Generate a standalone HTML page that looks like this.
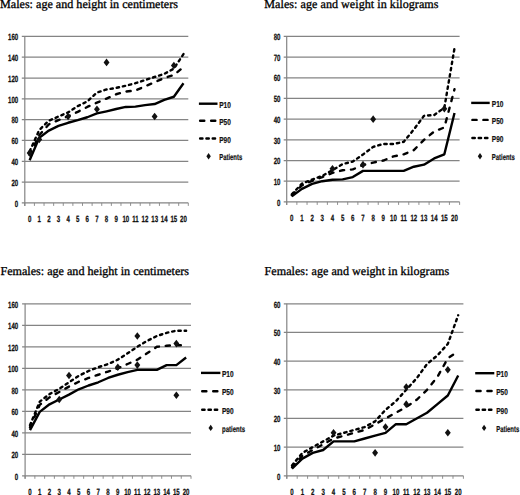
<!DOCTYPE html>
<html><head><meta charset="utf-8"><style>
html,body{margin:0;padding:0;background:#fff;}
body{width:520px;height:495px;overflow:hidden;}
svg{display:block;text-rendering:geometricPrecision;}
.t{font-family:"Liberation Serif",serif;font-size:12.1px;fill:#000;stroke:#000;stroke-width:0.3px;}
.l{font-family:"Liberation Sans",sans-serif;font-weight:bold;font-size:9.0px;fill:#111;stroke:#111;stroke-width:0.25px;}
.g{font-family:"Liberation Sans",sans-serif;font-weight:bold;font-size:8.6px;fill:#111;stroke:#111;stroke-width:0.2px;}
</style></head><body>
<svg width="520" height="495" viewBox="0 0 520 495">
<rect width="520" height="495" fill="#fff"/>
<text x="0" y="8.0" textLength="178" lengthAdjust="spacing" class="t">Males: age and height in centimeters</text>
<line x1="21.80" y1="182.09" x2="188.30" y2="182.09" stroke="#848484" stroke-width="1.2"/>
<line x1="21.80" y1="161.28" x2="188.30" y2="161.28" stroke="#848484" stroke-width="1.2"/>
<line x1="21.80" y1="140.46" x2="188.30" y2="140.46" stroke="#848484" stroke-width="1.2"/>
<line x1="21.80" y1="119.65" x2="188.30" y2="119.65" stroke="#848484" stroke-width="1.2"/>
<line x1="21.80" y1="98.84" x2="188.30" y2="98.84" stroke="#848484" stroke-width="1.2"/>
<line x1="21.80" y1="78.03" x2="188.30" y2="78.03" stroke="#848484" stroke-width="1.2"/>
<line x1="21.80" y1="57.21" x2="188.30" y2="57.21" stroke="#848484" stroke-width="1.2"/>
<line x1="21.80" y1="36.40" x2="188.30" y2="36.40" stroke="#848484" stroke-width="1.2"/>
<line x1="24.80" y1="36.40" x2="24.80" y2="205.90" stroke="#848484" stroke-width="1.2"/>
<line x1="21.80" y1="202.90" x2="188.30" y2="202.90" stroke="#848484" stroke-width="1.2"/>
<line x1="24.80" y1="202.90" x2="24.80" y2="205.90" stroke="#848484" stroke-width="0.9"/>
<line x1="34.42" y1="202.90" x2="34.42" y2="205.90" stroke="#848484" stroke-width="0.9"/>
<line x1="44.04" y1="202.90" x2="44.04" y2="205.90" stroke="#848484" stroke-width="0.9"/>
<line x1="53.65" y1="202.90" x2="53.65" y2="205.90" stroke="#848484" stroke-width="0.9"/>
<line x1="63.27" y1="202.90" x2="63.27" y2="205.90" stroke="#848484" stroke-width="0.9"/>
<line x1="72.89" y1="202.90" x2="72.89" y2="205.90" stroke="#848484" stroke-width="0.9"/>
<line x1="82.51" y1="202.90" x2="82.51" y2="205.90" stroke="#848484" stroke-width="0.9"/>
<line x1="92.12" y1="202.90" x2="92.12" y2="205.90" stroke="#848484" stroke-width="0.9"/>
<line x1="101.74" y1="202.90" x2="101.74" y2="205.90" stroke="#848484" stroke-width="0.9"/>
<line x1="111.36" y1="202.90" x2="111.36" y2="205.90" stroke="#848484" stroke-width="0.9"/>
<line x1="120.98" y1="202.90" x2="120.98" y2="205.90" stroke="#848484" stroke-width="0.9"/>
<line x1="130.59" y1="202.90" x2="130.59" y2="205.90" stroke="#848484" stroke-width="0.9"/>
<line x1="140.21" y1="202.90" x2="140.21" y2="205.90" stroke="#848484" stroke-width="0.9"/>
<line x1="149.83" y1="202.90" x2="149.83" y2="205.90" stroke="#848484" stroke-width="0.9"/>
<line x1="159.45" y1="202.90" x2="159.45" y2="205.90" stroke="#848484" stroke-width="0.9"/>
<line x1="169.06" y1="202.90" x2="169.06" y2="205.90" stroke="#848484" stroke-width="0.9"/>
<line x1="178.68" y1="202.90" x2="178.68" y2="205.90" stroke="#848484" stroke-width="0.9"/>
<line x1="188.30" y1="202.90" x2="188.30" y2="205.90" stroke="#848484" stroke-width="0.9"/>
<text transform="translate(18.20,206.60) scale(0.68,1)" text-anchor="end" class="l">0</text>
<text transform="translate(18.20,185.79) scale(0.68,1)" text-anchor="end" class="l">20</text>
<text transform="translate(18.20,164.97) scale(0.68,1)" text-anchor="end" class="l">40</text>
<text transform="translate(18.20,144.16) scale(0.68,1)" text-anchor="end" class="l">60</text>
<text transform="translate(18.20,123.35) scale(0.68,1)" text-anchor="end" class="l">80</text>
<text transform="translate(18.20,102.54) scale(0.68,1)" text-anchor="end" class="l">100</text>
<text transform="translate(18.20,81.73) scale(0.68,1)" text-anchor="end" class="l">120</text>
<text transform="translate(18.20,60.91) scale(0.68,1)" text-anchor="end" class="l">140</text>
<text transform="translate(18.20,40.10) scale(0.68,1)" text-anchor="end" class="l">160</text>
<text transform="translate(29.61,222.00) scale(0.68,1)" text-anchor="middle" class="l">0</text>
<text transform="translate(39.23,222.00) scale(0.68,1)" text-anchor="middle" class="l">1</text>
<text transform="translate(48.84,222.00) scale(0.68,1)" text-anchor="middle" class="l">2</text>
<text transform="translate(58.46,222.00) scale(0.68,1)" text-anchor="middle" class="l">3</text>
<text transform="translate(68.08,222.00) scale(0.68,1)" text-anchor="middle" class="l">4</text>
<text transform="translate(77.70,222.00) scale(0.68,1)" text-anchor="middle" class="l">5</text>
<text transform="translate(87.31,222.00) scale(0.68,1)" text-anchor="middle" class="l">6</text>
<text transform="translate(96.93,222.00) scale(0.68,1)" text-anchor="middle" class="l">7</text>
<text transform="translate(106.55,222.00) scale(0.68,1)" text-anchor="middle" class="l">8</text>
<text transform="translate(116.17,222.00) scale(0.68,1)" text-anchor="middle" class="l">9</text>
<text transform="translate(125.79,222.00) scale(0.68,1)" text-anchor="middle" class="l">10</text>
<text transform="translate(135.40,222.00) scale(0.68,1)" text-anchor="middle" class="l">11</text>
<text transform="translate(145.02,222.00) scale(0.68,1)" text-anchor="middle" class="l">12</text>
<text transform="translate(154.64,222.00) scale(0.68,1)" text-anchor="middle" class="l">13</text>
<text transform="translate(164.26,222.00) scale(0.68,1)" text-anchor="middle" class="l">14</text>
<text transform="translate(173.87,222.00) scale(0.68,1)" text-anchor="middle" class="l">15</text>
<text transform="translate(183.49,222.00) scale(0.68,1)" text-anchor="middle" class="l">20</text>
<path d="M29.61,160.23 L39.23,137.86 L48.84,130.58 L58.46,125.89 L68.08,122.77 L77.70,120.17 L87.31,117.26 L96.93,113.41 L106.55,111.33 L116.17,109.04 L125.79,106.95 L135.40,106.64 L145.02,105.08 L154.64,104.04 L164.26,99.88 L173.87,96.76 L183.49,83.23" fill="none" stroke="#000" stroke-width="2.4" stroke-linejoin="round" stroke-linecap="butt"/>
<path d="M29.61,155.03 L39.23,135.26 L48.84,124.33 L58.46,120.17 L68.08,116.22 L77.70,111.85 L87.31,106.95 L96.93,102.69 L106.55,98.53 L116.17,94.26 L125.79,91.55 L135.40,90.51 L145.02,86.35 L154.64,82.19 L164.26,78.03 L173.87,74.90 L183.49,67.10" fill="none" stroke="#000" stroke-width="2.4" stroke-linejoin="round" stroke-linecap="round" stroke-dasharray="4.2,6.8"/>
<path d="M29.61,151.39 L39.23,130.06 L48.84,120.69 L58.46,116.53 L68.08,112.37 L77.70,106.12 L87.31,101.44 L96.93,92.59 L106.55,89.47 L116.17,87.91 L125.79,85.73 L135.40,83.23 L145.02,80.11 L154.64,76.98 L164.26,73.86 L173.87,68.66 L183.49,54.09" fill="none" stroke="#000" stroke-width="2.4" stroke-linejoin="round" stroke-linecap="round" stroke-dasharray="2.4,3.9"/>
<path d="M29.61,149.15 L32.56,152.95 L29.61,156.75 L26.66,152.95Z" fill="#111"/>
<path d="M39.23,135.62 L42.18,139.42 L39.23,143.22 L36.28,139.42Z" fill="#111"/>
<path d="M68.08,112.73 L71.03,116.53 L68.08,120.33 L65.13,116.53Z" fill="#111"/>
<path d="M96.93,105.44 L99.88,109.24 L96.93,113.04 L93.98,109.24Z" fill="#111"/>
<path d="M106.55,58.62 L109.50,62.42 L106.55,66.22 L103.60,62.42Z" fill="#111"/>
<path d="M154.64,112.73 L157.59,116.53 L154.64,120.33 L151.69,116.53Z" fill="#111"/>
<path d="M173.87,61.74 L176.82,65.54 L173.87,69.34 L170.92,65.54Z" fill="#111"/>
<line x1="198.90" y1="103.7" x2="217.5" y2="103.7" stroke="#000" stroke-width="2.4" stroke-linecap="butt"/>
<text x="219.2" y="107.70" textLength="11.6" lengthAdjust="spacingAndGlyphs" class="g">P10</text>
<line x1="200.10" y1="120.7" x2="217.5" y2="120.7" stroke="#000" stroke-width="2.4" stroke-linecap="round" stroke-dasharray="4.2,6.8"/>
<text x="219.2" y="124.70" textLength="11.6" lengthAdjust="spacingAndGlyphs" class="g">P50</text>
<line x1="200.10" y1="138.5" x2="217.5" y2="138.5" stroke="#000" stroke-width="2.4" stroke-linecap="round" stroke-dasharray="2.4,3.9"/>
<text x="219.2" y="142.50" textLength="11.6" lengthAdjust="spacingAndGlyphs" class="g">P90</text>
<path d="M208.60,153.00 L210.80,156.20 L208.60,159.40 L206.40,156.20Z" fill="#111"/>
<text x="219.2" y="160.00" textLength="23" lengthAdjust="spacingAndGlyphs" class="g">Patients</text>
<text x="264.3" y="8.1" textLength="174.2" lengthAdjust="spacing" class="t">Males: age and weight in kilograms</text>
<line x1="283.70" y1="181.21" x2="459.60" y2="181.21" stroke="#848484" stroke-width="1.2"/>
<line x1="283.70" y1="160.53" x2="459.60" y2="160.53" stroke="#848484" stroke-width="1.2"/>
<line x1="283.70" y1="139.84" x2="459.60" y2="139.84" stroke="#848484" stroke-width="1.2"/>
<line x1="283.70" y1="119.15" x2="459.60" y2="119.15" stroke="#848484" stroke-width="1.2"/>
<line x1="283.70" y1="98.46" x2="459.60" y2="98.46" stroke="#848484" stroke-width="1.2"/>
<line x1="283.70" y1="77.78" x2="459.60" y2="77.78" stroke="#848484" stroke-width="1.2"/>
<line x1="283.70" y1="57.09" x2="459.60" y2="57.09" stroke="#848484" stroke-width="1.2"/>
<line x1="283.70" y1="36.40" x2="459.60" y2="36.40" stroke="#848484" stroke-width="1.2"/>
<line x1="286.70" y1="36.40" x2="286.70" y2="204.90" stroke="#848484" stroke-width="1.2"/>
<line x1="283.70" y1="201.90" x2="459.60" y2="201.90" stroke="#848484" stroke-width="1.2"/>
<line x1="286.70" y1="201.90" x2="286.70" y2="204.90" stroke="#848484" stroke-width="0.9"/>
<line x1="296.87" y1="201.90" x2="296.87" y2="204.90" stroke="#848484" stroke-width="0.9"/>
<line x1="307.04" y1="201.90" x2="307.04" y2="204.90" stroke="#848484" stroke-width="0.9"/>
<line x1="317.21" y1="201.90" x2="317.21" y2="204.90" stroke="#848484" stroke-width="0.9"/>
<line x1="327.38" y1="201.90" x2="327.38" y2="204.90" stroke="#848484" stroke-width="0.9"/>
<line x1="337.55" y1="201.90" x2="337.55" y2="204.90" stroke="#848484" stroke-width="0.9"/>
<line x1="347.72" y1="201.90" x2="347.72" y2="204.90" stroke="#848484" stroke-width="0.9"/>
<line x1="357.89" y1="201.90" x2="357.89" y2="204.90" stroke="#848484" stroke-width="0.9"/>
<line x1="368.06" y1="201.90" x2="368.06" y2="204.90" stroke="#848484" stroke-width="0.9"/>
<line x1="378.24" y1="201.90" x2="378.24" y2="204.90" stroke="#848484" stroke-width="0.9"/>
<line x1="388.41" y1="201.90" x2="388.41" y2="204.90" stroke="#848484" stroke-width="0.9"/>
<line x1="398.58" y1="201.90" x2="398.58" y2="204.90" stroke="#848484" stroke-width="0.9"/>
<line x1="408.75" y1="201.90" x2="408.75" y2="204.90" stroke="#848484" stroke-width="0.9"/>
<line x1="418.92" y1="201.90" x2="418.92" y2="204.90" stroke="#848484" stroke-width="0.9"/>
<line x1="429.09" y1="201.90" x2="429.09" y2="204.90" stroke="#848484" stroke-width="0.9"/>
<line x1="439.26" y1="201.90" x2="439.26" y2="204.90" stroke="#848484" stroke-width="0.9"/>
<line x1="449.43" y1="201.90" x2="449.43" y2="204.90" stroke="#848484" stroke-width="0.9"/>
<line x1="459.60" y1="201.90" x2="459.60" y2="204.90" stroke="#848484" stroke-width="0.9"/>
<text transform="translate(280.50,205.60) scale(0.68,1)" text-anchor="end" class="l">0</text>
<text transform="translate(280.50,184.91) scale(0.68,1)" text-anchor="end" class="l">10</text>
<text transform="translate(280.50,164.22) scale(0.68,1)" text-anchor="end" class="l">20</text>
<text transform="translate(280.50,143.54) scale(0.68,1)" text-anchor="end" class="l">30</text>
<text transform="translate(280.50,122.85) scale(0.68,1)" text-anchor="end" class="l">40</text>
<text transform="translate(280.50,102.16) scale(0.68,1)" text-anchor="end" class="l">50</text>
<text transform="translate(280.50,81.48) scale(0.68,1)" text-anchor="end" class="l">60</text>
<text transform="translate(280.50,60.79) scale(0.68,1)" text-anchor="end" class="l">70</text>
<text transform="translate(280.50,40.10) scale(0.68,1)" text-anchor="end" class="l">80</text>
<text transform="translate(291.79,221.20) scale(0.68,1)" text-anchor="middle" class="l">0</text>
<text transform="translate(301.96,221.20) scale(0.68,1)" text-anchor="middle" class="l">1</text>
<text transform="translate(312.13,221.20) scale(0.68,1)" text-anchor="middle" class="l">2</text>
<text transform="translate(322.30,221.20) scale(0.68,1)" text-anchor="middle" class="l">3</text>
<text transform="translate(332.47,221.20) scale(0.68,1)" text-anchor="middle" class="l">4</text>
<text transform="translate(342.64,221.20) scale(0.68,1)" text-anchor="middle" class="l">5</text>
<text transform="translate(352.81,221.20) scale(0.68,1)" text-anchor="middle" class="l">6</text>
<text transform="translate(362.98,221.20) scale(0.68,1)" text-anchor="middle" class="l">7</text>
<text transform="translate(373.15,221.20) scale(0.68,1)" text-anchor="middle" class="l">8</text>
<text transform="translate(383.32,221.20) scale(0.68,1)" text-anchor="middle" class="l">9</text>
<text transform="translate(393.49,221.20) scale(0.68,1)" text-anchor="middle" class="l">10</text>
<text transform="translate(403.66,221.20) scale(0.68,1)" text-anchor="middle" class="l">11</text>
<text transform="translate(413.83,221.20) scale(0.68,1)" text-anchor="middle" class="l">12</text>
<text transform="translate(424.00,221.20) scale(0.68,1)" text-anchor="middle" class="l">13</text>
<text transform="translate(434.17,221.20) scale(0.68,1)" text-anchor="middle" class="l">14</text>
<text transform="translate(444.34,221.20) scale(0.68,1)" text-anchor="middle" class="l">15</text>
<text transform="translate(454.51,221.20) scale(0.68,1)" text-anchor="middle" class="l">20</text>
<path d="M291.79,196.31 L301.96,188.87 L312.13,183.90 L322.30,181.21 L332.47,179.76 L342.64,179.35 L352.81,177.08 L362.98,170.87 L373.15,170.87 L383.32,170.87 L393.49,170.87 L403.66,170.87 L413.83,166.73 L424.00,164.66 L434.17,158.46 L444.34,154.32 L454.51,112.94" fill="none" stroke="#000" stroke-width="2.4" stroke-linejoin="round" stroke-linecap="butt"/>
<path d="M291.79,195.28 L301.96,185.35 L312.13,180.80 L322.30,177.08 L332.47,172.94 L342.64,170.25 L352.81,169.42 L362.98,165.08 L373.15,162.59 L383.32,160.53 L393.49,156.39 L403.66,154.32 L413.83,150.18 L424.00,139.84 L434.17,131.56 L444.34,127.43 L454.51,89.15" fill="none" stroke="#000" stroke-width="2.4" stroke-linejoin="round" stroke-linecap="round" stroke-dasharray="4.2,6.8"/>
<path d="M291.79,194.25 L301.96,183.69 L312.13,179.56 L322.30,175.83 L332.47,170.25 L342.64,164.04 L352.81,161.56 L362.98,154.53 L373.15,146.87 L383.32,143.98 L393.49,143.98 L403.66,141.91 L413.83,129.49 L424.00,115.84 L434.17,115.01 L444.34,107.77 L454.51,48.19" fill="none" stroke="#000" stroke-width="2.4" stroke-linejoin="round" stroke-linecap="round" stroke-dasharray="2.4,3.9"/>
<path d="M332.47,165.00 L335.42,168.80 L332.47,172.60 L329.52,168.80Z" fill="#111"/>
<path d="M362.98,160.86 L365.93,164.66 L362.98,168.46 L360.03,164.66Z" fill="#111"/>
<path d="M373.15,115.35 L376.10,119.15 L373.15,122.95 L370.20,119.15Z" fill="#111"/>
<path d="M444.34,105.01 L447.29,108.81 L444.34,112.61 L441.39,108.81Z" fill="#111"/>
<line x1="471.20" y1="102.9" x2="489.7" y2="102.9" stroke="#000" stroke-width="2.4" stroke-linecap="butt"/>
<text x="491.8" y="106.90" textLength="11.6" lengthAdjust="spacingAndGlyphs" class="g">P10</text>
<line x1="472.40" y1="119.9" x2="489.7" y2="119.9" stroke="#000" stroke-width="2.4" stroke-linecap="round" stroke-dasharray="4.2,6.8"/>
<text x="491.8" y="123.90" textLength="11.6" lengthAdjust="spacingAndGlyphs" class="g">P50</text>
<line x1="472.40" y1="138.0" x2="489.7" y2="138.0" stroke="#000" stroke-width="2.4" stroke-linecap="round" stroke-dasharray="2.4,3.9"/>
<text x="491.8" y="142.00" textLength="11.6" lengthAdjust="spacingAndGlyphs" class="g">P90</text>
<path d="M480.00,153.00 L482.20,156.20 L480.00,159.40 L477.80,156.20Z" fill="#111"/>
<text x="491.8" y="160.00" textLength="23" lengthAdjust="spacingAndGlyphs" class="g">Patients</text>
<text x="0.4" y="275.0" textLength="188.6" lengthAdjust="spacing" class="t">Females: age and height in centimeters</text>
<line x1="22.10" y1="454.30" x2="191.00" y2="454.30" stroke="#848484" stroke-width="1.2"/>
<line x1="22.10" y1="432.80" x2="191.00" y2="432.80" stroke="#848484" stroke-width="1.2"/>
<line x1="22.10" y1="411.30" x2="191.00" y2="411.30" stroke="#848484" stroke-width="1.2"/>
<line x1="22.10" y1="389.80" x2="191.00" y2="389.80" stroke="#848484" stroke-width="1.2"/>
<line x1="22.10" y1="368.30" x2="191.00" y2="368.30" stroke="#848484" stroke-width="1.2"/>
<line x1="22.10" y1="346.80" x2="191.00" y2="346.80" stroke="#848484" stroke-width="1.2"/>
<line x1="22.10" y1="325.30" x2="191.00" y2="325.30" stroke="#848484" stroke-width="1.2"/>
<line x1="22.10" y1="303.80" x2="191.00" y2="303.80" stroke="#848484" stroke-width="1.2"/>
<line x1="25.10" y1="303.80" x2="25.10" y2="478.80" stroke="#848484" stroke-width="1.2"/>
<line x1="22.10" y1="475.80" x2="191.00" y2="475.80" stroke="#848484" stroke-width="1.2"/>
<line x1="25.10" y1="475.80" x2="25.10" y2="478.80" stroke="#848484" stroke-width="0.9"/>
<line x1="34.86" y1="475.80" x2="34.86" y2="478.80" stroke="#848484" stroke-width="0.9"/>
<line x1="44.62" y1="475.80" x2="44.62" y2="478.80" stroke="#848484" stroke-width="0.9"/>
<line x1="54.38" y1="475.80" x2="54.38" y2="478.80" stroke="#848484" stroke-width="0.9"/>
<line x1="64.14" y1="475.80" x2="64.14" y2="478.80" stroke="#848484" stroke-width="0.9"/>
<line x1="73.89" y1="475.80" x2="73.89" y2="478.80" stroke="#848484" stroke-width="0.9"/>
<line x1="83.65" y1="475.80" x2="83.65" y2="478.80" stroke="#848484" stroke-width="0.9"/>
<line x1="93.41" y1="475.80" x2="93.41" y2="478.80" stroke="#848484" stroke-width="0.9"/>
<line x1="103.17" y1="475.80" x2="103.17" y2="478.80" stroke="#848484" stroke-width="0.9"/>
<line x1="112.93" y1="475.80" x2="112.93" y2="478.80" stroke="#848484" stroke-width="0.9"/>
<line x1="122.69" y1="475.80" x2="122.69" y2="478.80" stroke="#848484" stroke-width="0.9"/>
<line x1="132.45" y1="475.80" x2="132.45" y2="478.80" stroke="#848484" stroke-width="0.9"/>
<line x1="142.21" y1="475.80" x2="142.21" y2="478.80" stroke="#848484" stroke-width="0.9"/>
<line x1="151.96" y1="475.80" x2="151.96" y2="478.80" stroke="#848484" stroke-width="0.9"/>
<line x1="161.72" y1="475.80" x2="161.72" y2="478.80" stroke="#848484" stroke-width="0.9"/>
<line x1="171.48" y1="475.80" x2="171.48" y2="478.80" stroke="#848484" stroke-width="0.9"/>
<line x1="181.24" y1="475.80" x2="181.24" y2="478.80" stroke="#848484" stroke-width="0.9"/>
<line x1="191.00" y1="475.80" x2="191.00" y2="478.80" stroke="#848484" stroke-width="0.9"/>
<text transform="translate(18.20,479.50) scale(0.68,1)" text-anchor="end" class="l">0</text>
<text transform="translate(18.20,458.00) scale(0.68,1)" text-anchor="end" class="l">20</text>
<text transform="translate(18.20,436.50) scale(0.68,1)" text-anchor="end" class="l">40</text>
<text transform="translate(18.20,415.00) scale(0.68,1)" text-anchor="end" class="l">60</text>
<text transform="translate(18.20,393.50) scale(0.68,1)" text-anchor="end" class="l">80</text>
<text transform="translate(18.20,372.00) scale(0.68,1)" text-anchor="end" class="l">100</text>
<text transform="translate(18.20,350.50) scale(0.68,1)" text-anchor="end" class="l">120</text>
<text transform="translate(18.20,329.00) scale(0.68,1)" text-anchor="end" class="l">140</text>
<text transform="translate(18.20,307.50) scale(0.68,1)" text-anchor="end" class="l">160</text>
<text transform="translate(29.98,494.70) scale(0.68,1)" text-anchor="middle" class="l">0</text>
<text transform="translate(39.74,494.70) scale(0.68,1)" text-anchor="middle" class="l">1</text>
<text transform="translate(49.50,494.70) scale(0.68,1)" text-anchor="middle" class="l">2</text>
<text transform="translate(59.26,494.70) scale(0.68,1)" text-anchor="middle" class="l">3</text>
<text transform="translate(69.01,494.70) scale(0.68,1)" text-anchor="middle" class="l">4</text>
<text transform="translate(78.77,494.70) scale(0.68,1)" text-anchor="middle" class="l">5</text>
<text transform="translate(88.53,494.70) scale(0.68,1)" text-anchor="middle" class="l">6</text>
<text transform="translate(98.29,494.70) scale(0.68,1)" text-anchor="middle" class="l">7</text>
<text transform="translate(108.05,494.70) scale(0.68,1)" text-anchor="middle" class="l">8</text>
<text transform="translate(117.81,494.70) scale(0.68,1)" text-anchor="middle" class="l">9</text>
<text transform="translate(127.57,494.70) scale(0.68,1)" text-anchor="middle" class="l">10</text>
<text transform="translate(137.33,494.70) scale(0.68,1)" text-anchor="middle" class="l">11</text>
<text transform="translate(147.09,494.70) scale(0.68,1)" text-anchor="middle" class="l">12</text>
<text transform="translate(156.84,494.70) scale(0.68,1)" text-anchor="middle" class="l">13</text>
<text transform="translate(166.60,494.70) scale(0.68,1)" text-anchor="middle" class="l">14</text>
<text transform="translate(176.36,494.70) scale(0.68,1)" text-anchor="middle" class="l">15</text>
<text transform="translate(186.12,494.70) scale(0.68,1)" text-anchor="middle" class="l">20</text>
<path d="M29.98,430.11 L39.74,411.84 L49.50,404.31 L59.26,399.48 L69.01,394.64 L78.77,389.26 L88.53,385.50 L98.29,382.27 L108.05,377.98 L117.81,374.75 L127.57,372.06 L137.33,369.91 L147.09,369.91 L156.84,369.91 L166.60,365.08 L176.36,365.08 L186.12,357.55" fill="none" stroke="#000" stroke-width="2.4" stroke-linejoin="round" stroke-linecap="butt"/>
<path d="M29.98,427.43 L39.74,404.85 L49.50,397.33 L59.26,391.95 L69.01,386.58 L78.77,381.74 L88.53,377.98 L98.29,374.75 L108.05,371.52 L117.81,368.30 L127.57,364.00 L137.33,359.70 L147.09,353.25 L156.84,346.80 L166.60,345.73 L176.36,345.19 L186.12,345.19" fill="none" stroke="#000" stroke-width="2.4" stroke-linejoin="round" stroke-linecap="round" stroke-dasharray="4.2,6.8"/>
<path d="M29.98,425.28 L39.74,401.62 L49.50,394.10 L59.26,388.73 L69.01,382.27 L78.77,375.83 L88.53,370.99 L98.29,367.23 L108.05,364.00 L117.81,359.70 L127.57,353.25 L137.33,346.80 L147.09,340.89 L156.84,336.05 L166.60,332.83 L176.36,330.68 L186.12,330.68" fill="none" stroke="#000" stroke-width="2.4" stroke-linejoin="round" stroke-linecap="round" stroke-dasharray="2.4,3.9"/>
<path d="M59.26,395.68 L62.21,399.48 L59.26,403.28 L56.31,399.48Z" fill="#111"/>
<path d="M69.01,371.70 L71.96,375.50 L69.01,379.30 L66.06,375.50Z" fill="#111"/>
<path d="M117.81,363.43 L120.76,367.23 L117.81,371.03 L114.86,367.23Z" fill="#111"/>
<path d="M137.33,332.25 L140.28,336.05 L137.33,339.85 L134.38,336.05Z" fill="#111"/>
<path d="M137.33,361.28 L140.28,365.08 L137.33,368.88 L134.38,365.08Z" fill="#111"/>
<path d="M176.36,339.78 L179.31,343.58 L176.36,347.38 L173.41,343.58Z" fill="#111"/>
<path d="M176.36,391.38 L179.31,395.18 L176.36,398.98 L173.41,395.18Z" fill="#111"/>
<line x1="201.00" y1="372.9" x2="220.4" y2="372.9" stroke="#000" stroke-width="2.4" stroke-linecap="butt"/>
<text x="222.0" y="376.90" textLength="11.6" lengthAdjust="spacingAndGlyphs" class="g">P10</text>
<line x1="202.20" y1="391.2" x2="220.4" y2="391.2" stroke="#000" stroke-width="2.4" stroke-linecap="round" stroke-dasharray="4.2,6.8"/>
<text x="222.0" y="395.20" textLength="11.6" lengthAdjust="spacingAndGlyphs" class="g">P50</text>
<line x1="202.20" y1="409.8" x2="220.4" y2="409.8" stroke="#000" stroke-width="2.4" stroke-linecap="round" stroke-dasharray="2.4,3.9"/>
<text x="222.0" y="413.80" textLength="11.6" lengthAdjust="spacingAndGlyphs" class="g">P90</text>
<path d="M210.70,424.70 L212.90,427.90 L210.70,431.10 L208.50,427.90Z" fill="#111"/>
<text x="222.0" y="431.70" textLength="23" lengthAdjust="spacingAndGlyphs" class="g">patients</text>
<text x="264.6" y="275.3" textLength="184.6" lengthAdjust="spacing" class="t">Females: age and weight in kilograms</text>
<line x1="283.80" y1="447.13" x2="463.40" y2="447.13" stroke="#848484" stroke-width="1.2"/>
<line x1="283.80" y1="418.47" x2="463.40" y2="418.47" stroke="#848484" stroke-width="1.2"/>
<line x1="283.80" y1="389.80" x2="463.40" y2="389.80" stroke="#848484" stroke-width="1.2"/>
<line x1="283.80" y1="361.13" x2="463.40" y2="361.13" stroke="#848484" stroke-width="1.2"/>
<line x1="283.80" y1="332.47" x2="463.40" y2="332.47" stroke="#848484" stroke-width="1.2"/>
<line x1="283.80" y1="303.80" x2="463.40" y2="303.80" stroke="#848484" stroke-width="1.2"/>
<line x1="286.80" y1="303.80" x2="286.80" y2="478.80" stroke="#848484" stroke-width="1.2"/>
<line x1="283.80" y1="475.80" x2="463.40" y2="475.80" stroke="#848484" stroke-width="1.2"/>
<line x1="286.80" y1="475.80" x2="286.80" y2="478.80" stroke="#848484" stroke-width="0.9"/>
<line x1="297.19" y1="475.80" x2="297.19" y2="478.80" stroke="#848484" stroke-width="0.9"/>
<line x1="307.58" y1="475.80" x2="307.58" y2="478.80" stroke="#848484" stroke-width="0.9"/>
<line x1="317.96" y1="475.80" x2="317.96" y2="478.80" stroke="#848484" stroke-width="0.9"/>
<line x1="328.35" y1="475.80" x2="328.35" y2="478.80" stroke="#848484" stroke-width="0.9"/>
<line x1="338.74" y1="475.80" x2="338.74" y2="478.80" stroke="#848484" stroke-width="0.9"/>
<line x1="349.13" y1="475.80" x2="349.13" y2="478.80" stroke="#848484" stroke-width="0.9"/>
<line x1="359.52" y1="475.80" x2="359.52" y2="478.80" stroke="#848484" stroke-width="0.9"/>
<line x1="369.91" y1="475.80" x2="369.91" y2="478.80" stroke="#848484" stroke-width="0.9"/>
<line x1="380.29" y1="475.80" x2="380.29" y2="478.80" stroke="#848484" stroke-width="0.9"/>
<line x1="390.68" y1="475.80" x2="390.68" y2="478.80" stroke="#848484" stroke-width="0.9"/>
<line x1="401.07" y1="475.80" x2="401.07" y2="478.80" stroke="#848484" stroke-width="0.9"/>
<line x1="411.46" y1="475.80" x2="411.46" y2="478.80" stroke="#848484" stroke-width="0.9"/>
<line x1="421.85" y1="475.80" x2="421.85" y2="478.80" stroke="#848484" stroke-width="0.9"/>
<line x1="432.24" y1="475.80" x2="432.24" y2="478.80" stroke="#848484" stroke-width="0.9"/>
<line x1="442.62" y1="475.80" x2="442.62" y2="478.80" stroke="#848484" stroke-width="0.9"/>
<line x1="453.01" y1="475.80" x2="453.01" y2="478.80" stroke="#848484" stroke-width="0.9"/>
<line x1="463.40" y1="475.80" x2="463.40" y2="478.80" stroke="#848484" stroke-width="0.9"/>
<text transform="translate(280.50,479.50) scale(0.68,1)" text-anchor="end" class="l">0</text>
<text transform="translate(280.50,450.83) scale(0.68,1)" text-anchor="end" class="l">10</text>
<text transform="translate(280.50,422.17) scale(0.68,1)" text-anchor="end" class="l">20</text>
<text transform="translate(280.50,393.50) scale(0.68,1)" text-anchor="end" class="l">30</text>
<text transform="translate(280.50,364.83) scale(0.68,1)" text-anchor="end" class="l">40</text>
<text transform="translate(280.50,336.17) scale(0.68,1)" text-anchor="end" class="l">50</text>
<text transform="translate(280.50,307.50) scale(0.68,1)" text-anchor="end" class="l">60</text>
<text transform="translate(291.99,494.70) scale(0.68,1)" text-anchor="middle" class="l">0</text>
<text transform="translate(302.38,494.70) scale(0.68,1)" text-anchor="middle" class="l">1</text>
<text transform="translate(312.77,494.70) scale(0.68,1)" text-anchor="middle" class="l">2</text>
<text transform="translate(323.16,494.70) scale(0.68,1)" text-anchor="middle" class="l">3</text>
<text transform="translate(333.55,494.70) scale(0.68,1)" text-anchor="middle" class="l">4</text>
<text transform="translate(343.94,494.70) scale(0.68,1)" text-anchor="middle" class="l">5</text>
<text transform="translate(354.32,494.70) scale(0.68,1)" text-anchor="middle" class="l">6</text>
<text transform="translate(364.71,494.70) scale(0.68,1)" text-anchor="middle" class="l">7</text>
<text transform="translate(375.10,494.70) scale(0.68,1)" text-anchor="middle" class="l">8</text>
<text transform="translate(385.49,494.70) scale(0.68,1)" text-anchor="middle" class="l">9</text>
<text transform="translate(395.88,494.70) scale(0.68,1)" text-anchor="middle" class="l">10</text>
<text transform="translate(406.26,494.70) scale(0.68,1)" text-anchor="middle" class="l">11</text>
<text transform="translate(416.65,494.70) scale(0.68,1)" text-anchor="middle" class="l">12</text>
<text transform="translate(427.04,494.70) scale(0.68,1)" text-anchor="middle" class="l">13</text>
<text transform="translate(437.43,494.70) scale(0.68,1)" text-anchor="middle" class="l">14</text>
<text transform="translate(447.82,494.70) scale(0.68,1)" text-anchor="middle" class="l">15</text>
<text transform="translate(458.21,494.70) scale(0.68,1)" text-anchor="middle" class="l">20</text>
<path d="M291.99,468.63 L302.38,458.60 L312.77,452.87 L323.16,450.00 L333.55,441.40 L343.94,441.40 L354.32,441.40 L364.71,438.53 L375.10,435.67 L385.49,432.80 L395.88,424.20 L406.26,424.20 L416.65,418.47 L427.04,412.73 L437.43,404.13 L447.82,395.53 L458.21,375.47" fill="none" stroke="#000" stroke-width="2.4" stroke-linejoin="round" stroke-linecap="butt"/>
<path d="M291.99,467.20 L302.38,455.73 L312.77,450.00 L323.16,444.27 L333.55,438.53 L343.94,435.67 L354.32,432.80 L364.71,429.93 L375.10,424.20 L385.49,418.47 L395.88,412.73 L406.26,407.00 L416.65,399.83 L427.04,389.80 L437.43,376.90 L447.82,358.27 L458.21,351.10" fill="none" stroke="#000" stroke-width="2.4" stroke-linejoin="round" stroke-linecap="round" stroke-dasharray="4.2,6.8"/>
<path d="M291.99,465.48 L302.38,452.87 L312.77,447.13 L323.16,441.40 L333.55,435.67 L343.94,432.80 L354.32,429.93 L364.71,427.07 L375.10,421.33 L385.49,409.87 L395.88,401.27 L406.26,389.80 L416.65,378.33 L427.04,364.00 L437.43,355.40 L447.82,343.93 L458.21,315.27" fill="none" stroke="#000" stroke-width="2.4" stroke-linejoin="round" stroke-linecap="round" stroke-dasharray="2.4,3.9"/>
<path d="M333.55,429.00 L336.50,432.80 L333.55,436.60 L330.60,432.80Z" fill="#111"/>
<path d="M375.10,449.07 L378.05,452.87 L375.10,456.67 L372.15,452.87Z" fill="#111"/>
<path d="M385.49,423.27 L388.44,427.07 L385.49,430.87 L382.54,427.07Z" fill="#111"/>
<path d="M406.26,383.13 L409.21,386.93 L406.26,390.73 L403.31,386.93Z" fill="#111"/>
<path d="M406.26,400.33 L409.21,404.13 L406.26,407.93 L403.31,404.13Z" fill="#111"/>
<path d="M447.82,365.93 L450.77,369.73 L447.82,373.53 L444.87,369.73Z" fill="#111"/>
<path d="M447.82,429.00 L450.77,432.80 L447.82,436.60 L444.87,432.80Z" fill="#111"/>
<line x1="475.20" y1="373.2" x2="494.3" y2="373.2" stroke="#000" stroke-width="2.4" stroke-linecap="butt"/>
<text x="496.2" y="377.20" textLength="11.6" lengthAdjust="spacingAndGlyphs" class="g">P10</text>
<line x1="476.40" y1="391.0" x2="494.3" y2="391.0" stroke="#000" stroke-width="2.4" stroke-linecap="round" stroke-dasharray="4.2,6.8"/>
<text x="496.2" y="395.00" textLength="11.6" lengthAdjust="spacingAndGlyphs" class="g">P50</text>
<line x1="476.40" y1="409.8" x2="494.3" y2="409.8" stroke="#000" stroke-width="2.4" stroke-linecap="round" stroke-dasharray="2.4,3.9"/>
<text x="496.2" y="413.80" textLength="11.6" lengthAdjust="spacingAndGlyphs" class="g">P90</text>
<path d="M484.10,424.70 L486.30,427.90 L484.10,431.10 L481.90,427.90Z" fill="#111"/>
<text x="496.2" y="431.70" textLength="23" lengthAdjust="spacingAndGlyphs" class="g">Patients</text>
</svg>
</body></html>
